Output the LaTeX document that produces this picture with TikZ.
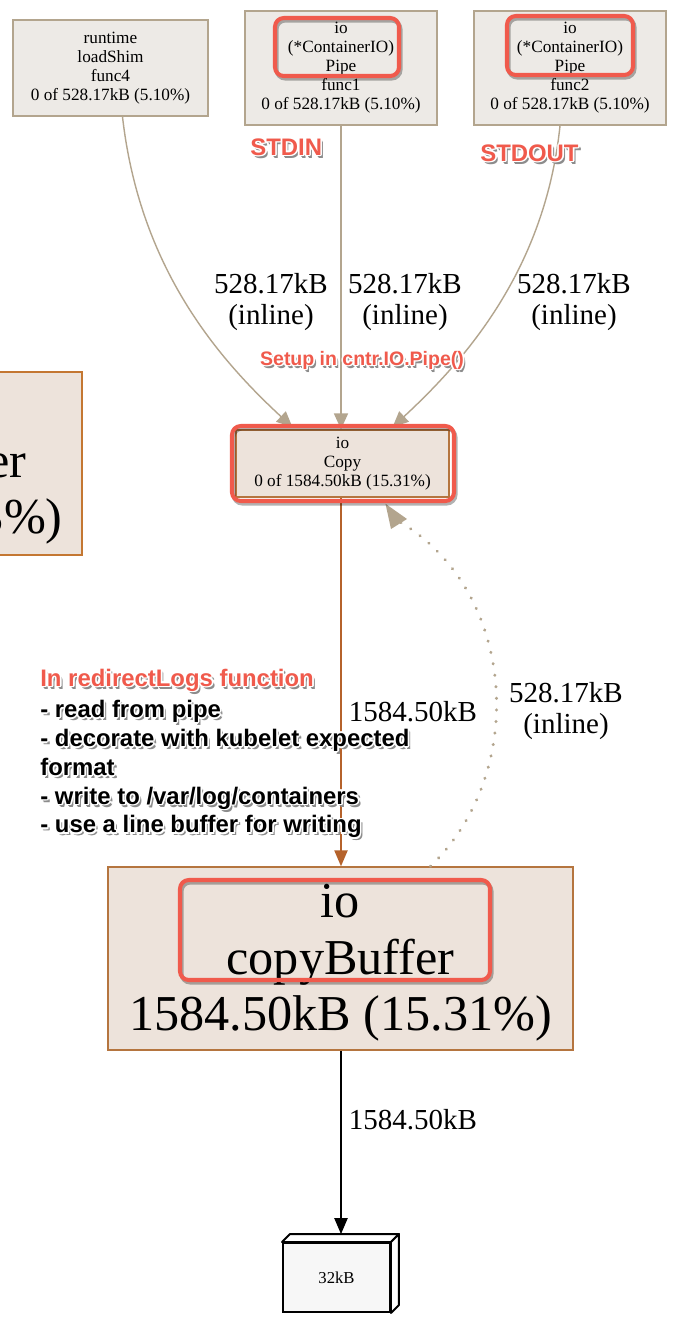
\documentclass[tikz,border=0pt]{standalone}
\usepackage{fontspec}
\setmainfont{Liberation Serif}
\setsansfont{Liberation Sans}
\usetikzlibrary{calc,arrows.meta}

\definecolor{fngray}{HTML}{EDEAE6}
\definecolor{fnline}{HTML}{B3A58E}
\definecolor{hotfill}{HTML}{EDE3DB}
\definecolor{hotline}{HTML}{B5753F}
\definecolor{hotedge}{HTML}{B5622B}
\definecolor{notered}{HTML}{F05A4C}

\tikzset{
  fnbox/.style={draw=fnline, fill=fngray, line width=0.9pt, inner sep=0pt, align=center, font=\fontsize{9.8}{10.8}\selectfont},
  hotbox/.style={draw=hotline, fill=hotfill, line width=0.9pt, inner sep=0pt, align=center},
  membox/.style={draw=black, fill=black!3, line width=1.1pt, inner sep=0pt, font=\fontsize{9.5}{11}\selectfont},
  memface/.style={draw=black, fill=white, line width=1.1pt, line join=round},
  tanedge/.style={draw=fnline, line width=0.8pt, -{Triangle[length=9pt,width=8pt]}},
  hotflow/.style={draw=hotedge, line width=0.8pt, -{Triangle[length=9pt,width=7.5pt]}},
  inlineback/.style={draw=fnline, line width=1.8pt, line cap=round, dash pattern=on 0.1pt off 6.5pt},
  backtip/.style={draw=none, fill=fnline},
  blackflow/.style={draw=black, line width=0.8pt, -{Triangle[length=9pt,width=7.5pt]}},
  edgelbl/.style={align=center, inner sep=0pt, font=\fontsize{16.5}{18.1}\selectfont},
  bigtxt/.style={inner sep=0pt, font=\fontsize{28.6}{32.3}\selectfont},
  notetxt/.style={inner sep=0pt, align=left, text=notered, font=\sffamily\bfseries\fontsize{13.6}{16.4}\selectfont},
  redmark/.style={draw=notered, line width=2.3pt, rounded corners=5pt},
  redshade/.style={draw=black, opacity=.3, line width=2.3pt, rounded corners=5pt}
}

% text with a white halo and a soft shadow
\newcommand{\notemark}[4][]{%
  \foreach \hx/\hy in {1.8/2.2,2.6/3.0}
    \node[notetxt, #1, text=black!45] at ($(#3)+(\hx,\hy)$) {#4};
  \foreach \hx/\hy in {-1.7/0,1.7/0,0/-1.7,0/1.7,-1.2/-1.2,1.2/-1.2,-1.2/1.2,1.2/1.2}
    \node[notetxt, #1, text=white] at ($(#3)+(\hx,\hy)$) {#4};
  \node[notetxt, #1] (#2) at (#3) {#4};}

% red rounded frame with its shadow
\newcommand{\redframe}[2]{%
  \draw[redshade] ($(#1)+(1.5,2.5)$) rectangle ($(#2)+(1.5,2.5)$);
  \draw[redmark] (#1) rectangle (#2);}

\begin{document}
\begin{tikzpicture}[x=0.02cm, y=-0.02cm]
\useasboundingbox[fill=white] (0,0) rectangle (693,1319);

%%% box cut off on the left
\draw[draw=hotline!80!orange, fill=hotfill, line width=0.9pt] (-40,372) rectangle (82,555);
\node[bigtxt, anchor=base east] (cutone) at (27,477) {er};
\node[bigtxt, anchor=base east] (cuttwo) at (63,533) {3\%)};

%%% callers
\node[fnbox, minimum width=3.9cm, minimum height=1.92cm] (loadshim) at (110.5,68) {runtime\\loadShim\\func4\\0 of 528.17kB (5.10\%)};
\node[fnbox, minimum width=3.84cm, minimum height=2.28cm] (pipeone) at (341,68) {io\\(*ContainerIO)\\Pipe\\func1\\0 of 528.17kB (5.10\%)};
\node[fnbox, minimum width=3.84cm, minimum height=2.28cm] (pipetwo) at (570,68) {io\\(*ContainerIO)\\Pipe\\func2\\0 of 528.17kB (5.10\%)};

%%% io.Copy and io.copyBuffer
\node[fnbox, draw=hotline, fill=hotfill, minimum width=4.26cm, minimum height=1.34cm] (copy) at (342.5,463.5) {io\\Copy\\0 of 1584.50kB (15.31\%)};
\node[hotbox, bigtxt, minimum width=9.3cm, minimum height=3.66cm, align=center] (buffer) at (340.5,958.5) {\rule{0pt}{24pt}io\\copyBuffer\\1584.50kB (15.31\%)};

%%% allocation
\node[membox, minimum width=2.14cm, minimum height=1.38cm] (mem) at (336.5,1277.5) {32kB};
\draw[memface] (mem.north west) -- ++(8,-8) -- ($(mem.north east)+(8,-8)$) -- (mem.north east) -- cycle;
\draw[memface] (mem.north east) -- ++(8,-8) -- ($(mem.south east)+(8,-8)$) -- (mem.south east) -- cycle;

%%% edges
\draw[tanedge] ($(loadshim.south)+(12,0)$) .. controls (140,270) and (220,360) .. ($(copy.north)+(-50,-2)$);
\draw[tanedge] (pipeone.south) -- (pipeone.south |- copy.north);
\draw[tanedge] ($(pipetwo.south)+(-10,0)$) .. controls (545,270) and (465,360) .. ($(copy.north)+(50,-2)$);
\draw[hotflow] (copy.south -| 341,0) -- (buffer.north -| 341,0);
\draw[inlineback] ($(buffer.north)+(90,0)$) .. controls (530,770) and (515,590) .. (400,522);
\fill[backtip] ($(copy.south)+(43,6)$) -- (407,519) -- (391,529) -- cycle;
\draw[blackflow] (buffer.south -| 341,0) -- ($(mem.north -| 341,0)+(0,-8)$);

\node[edgelbl] (lblone) at (271,302) {528.17kB\\(inline)};
\node[edgelbl] (lbltwo) at (405,302) {528.17kB\\(inline)};
\node[edgelbl] (lblthree) at (574,302) {528.17kB\\(inline)};
\node[edgelbl] (lblback) at (566,711) {528.17kB\\(inline)};
\node[edgelbl] (lblcopy) at (413,712) {1584.50kB};
\node[edgelbl] (lblmem) at (413,1120) {1584.50kB};

%%% red marks
\redframe{275,18}{399,76}
\redframe{507,16}{633,75}
\redframe{232,426}{454,501}
\redframe{180,880}{490,980}

\notemark[anchor=west]{stdin}{250,147}{STDIN}
\notemark[anchor=west]{stdout}{480,153}{STDOUT}
\notemark[font=\sffamily\bfseries\fontsize{11.1}{13}\selectfont]{setup}{362,360}{Setup in cntr.IO.Pipe()}
\notemark[anchor=west]{notehead}{40,680}{In redirectLogs function}
\notemark[anchor=north west, text=black]{notebody}{40,700}{- read from pipe\\- decorate with kubelet expected\\format\\- write to /var/log/containers\\- use a line buffer for writing}

\end{tikzpicture}
\end{document}
